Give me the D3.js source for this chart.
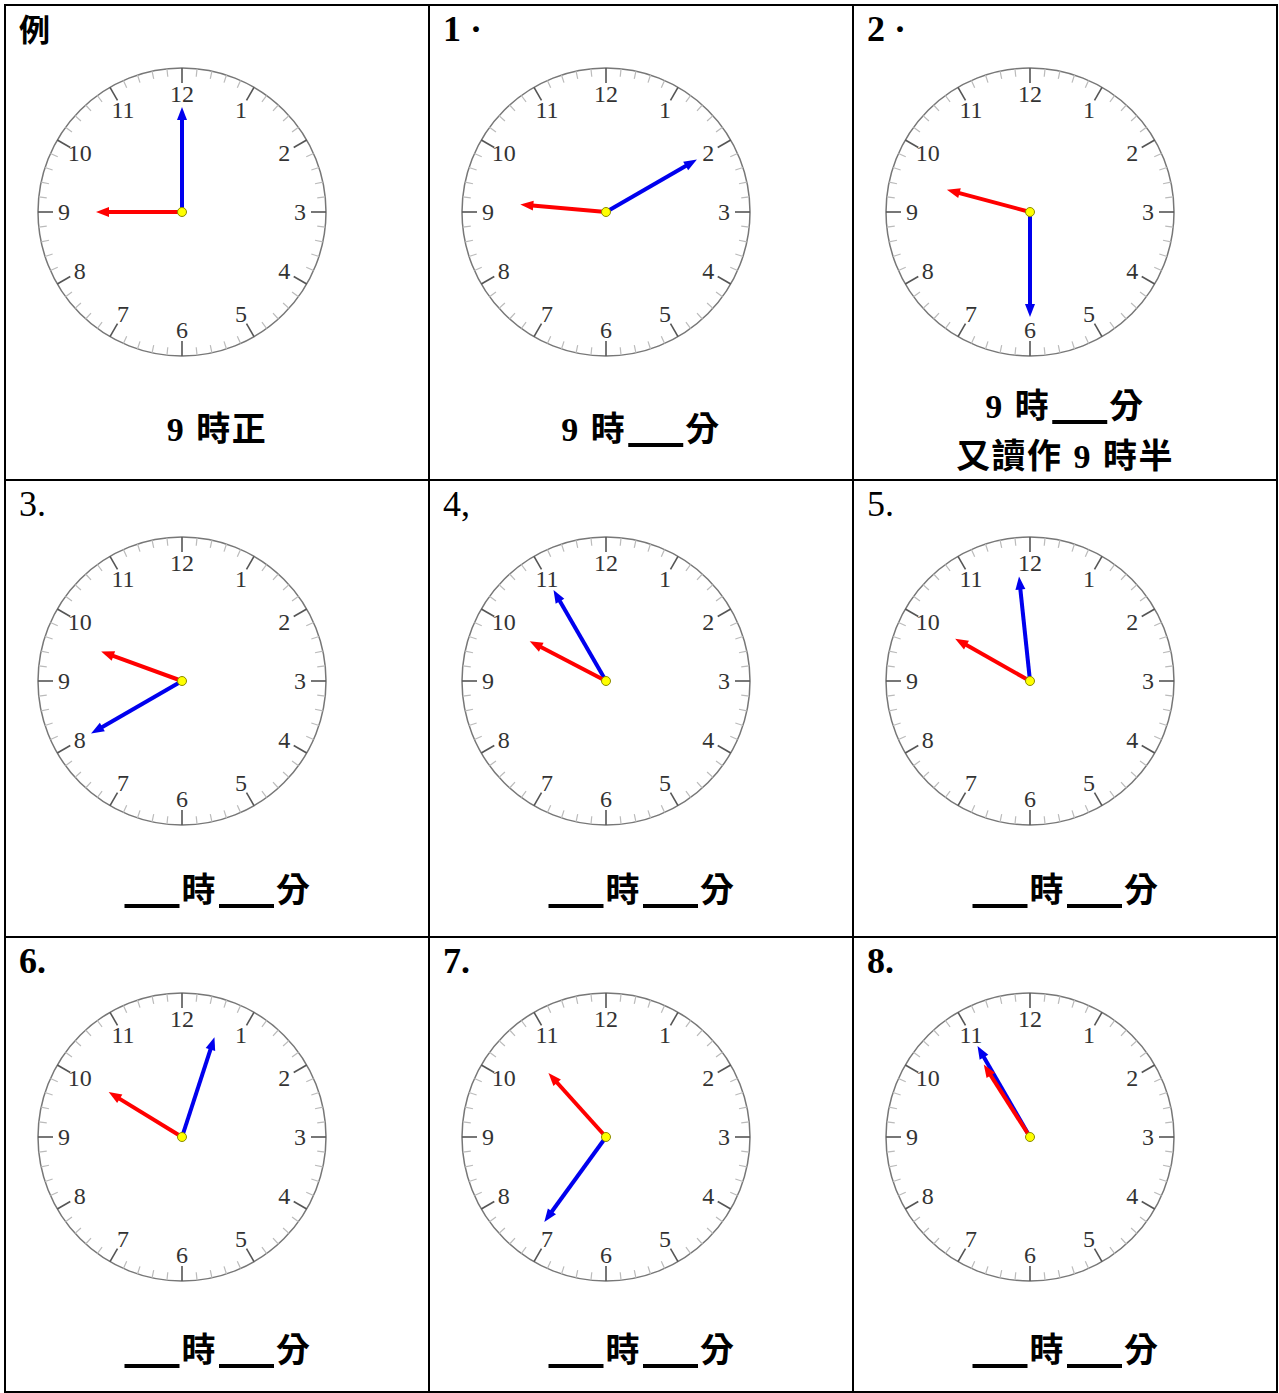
<!DOCTYPE html>
<html>
<head>
<meta charset="utf-8">
<script src="https://cdn.jsdelivr.net/npm/d3@7.9.0/dist/d3.min.js"></script>
<style>
  body { margin: 0; background: #fff; }
  svg { display: block; }
</style>
</head>
<body>
<svg id="sheet" width="1279" height="1393"></svg>
<script>
// question labels, clock readings, captions
const labels = ["例", "1 ·", "2 ·", "3.", "4,", "5.", "6.", "7.", "8."];
const labelBold = [true, true, true, false, false, false, true, true, true];
const hours = [9, 9, 9, 9, 9, 9, 10, 10, 10];
const minutes = [0, 10, 30, 40, 55, 59, 3, 36, 55];
// "_" = blank to fill in
const captions = [
  [["9 時正"]],
  [["9 時", "_", "分"]],
  [["9 時", "_", "分"], ["又讀作 9 時半"]],
  [["_", "時", "_", "分"]], [["_", "時", "_", "分"]], [["_", "時", "_", "分"]],
  [["_", "時", "_", "分"]], [["_", "時", "_", "分"]], [["_", "時", "_", "分"]]
];
const dialNumbers = [12, 1, 2, 3, 4, 5, 6, 7, 8, 9, 10, 11];

const colEdges = [5, 429, 853, 1277];
const rowEdges = [5, 480, 937, 1392];
const clockDy = [207, 201, 200];
const captionBase = [[441], [441], [418, 468], [902], [902], [902], [1362], [1362], [1362]];

const svg = d3.select("#sheet");
const font = "'Liberation Serif', 'Noto Sans CJK TC', serif";

const R = 144;
const minuteAngle = d3.scaleLinear().domain([0, 60]).range([0, 2 * Math.PI]);
const hourAngle = d3.scaleLinear().domain([0, 12]).range([0, 2 * Math.PI]);
const pt = (a, r) => [r * Math.sin(a), -r * Math.cos(a)];

function hand(g, angle, len, color) {
  const head = 13, half = 5;
  const [x1, y1] = pt(angle, len - head + 1);
  g.append("line").attr("x1", 0).attr("y1", 0).attr("x2", x1).attr("y2", y1)
    .attr("stroke", color).attr("stroke-width", 4);
  const tip = pt(angle, len), base = pt(angle, len - head);
  const nx = Math.cos(angle) * half, ny = Math.sin(angle) * half;
  const p = d3.path();
  p.moveTo(tip[0], tip[1]);
  p.lineTo(base[0] + nx, base[1] + ny);
  p.lineTo(base[0] - nx, base[1] - ny);
  p.closePath();
  g.append("path").attr("d", p.toString()).attr("fill", color);
}

labels.forEach((lab, i) => {
  const col = i % 3, row = Math.floor(i / 3);
  const left = colEdges[col], top = rowEdges[row];
  const cx = left + 177, cy = top + clockDy[row];

  // label
  svg.append("text").attr("x", left + 14).attr("y", top + 36)
    .attr("font-family", font).attr("font-size", lab === "例" ? 31 : 36)
    .attr("font-weight", labelBold[i] ? "bold" : "normal")
    .attr("fill", "#000").text(lab);

  // clock face
  const g = svg.append("g").attr("transform", `translate(${cx},${cy})`);
  g.append("circle").attr("r", R).attr("fill", "#fff")
    .attr("stroke", "#777").attr("stroke-width", 1.5);
  g.selectAll("line.tick").data(d3.range(60)).join("line").attr("class", "tick")
    .each(function (m) {
      const a = minuteAngle(m);
      const inner = m % 5 === 0 ? R - 15 : R - 8;
      const [xa, ya] = pt(a, R), [xb, yb] = pt(a, inner);
      d3.select(this).attr("x1", xa).attr("y1", ya).attr("x2", xb).attr("y2", yb)
        .attr("stroke", m % 5 === 0 ? "#555" : "#bbb")
        .attr("stroke-width", m % 5 === 0 ? 1.6 : 1.2);
    });
  g.selectAll("text.num").data(dialNumbers).join("text").attr("class", "num")
    .attr("x", d => pt(hourAngle(d), 118)[0])
    .attr("y", d => pt(hourAngle(d), 118)[1])
    .attr("text-anchor", "middle").attr("dominant-baseline", "central")
    .attr("font-family", "'Liberation Serif', serif").attr("font-size", 24)
    .attr("fill", "#333").text(d => d);

  hand(g, minuteAngle(minutes[i]), 105, "#0000ee");
  hand(g, hourAngle(hours[i] + minutes[i] / 60), 86, "#ff0000");
  g.append("circle").attr("r", 4.5).attr("fill", "#ffff00")
    .attr("stroke", "#8a8a00").attr("stroke-width", 1);

  // captions
  const centerX = left + 212;
  captions[i].forEach((segs, li) => {
    const base = captionBase[i][li];
    const line = svg.append("g");
    let x = 0;
    segs.forEach(s => {
      if (s === "_") {
        line.append("rect").attr("x", x + 2).attr("y", base + 2)
          .attr("width", 55).attr("height", 4).attr("fill", "#000");
        x += 59;
      } else {
        const t = line.append("text").attr("x", x).attr("y", base)
          .attr("font-family", font).attr("font-size", 34)
          .attr("letter-spacing", 1.5).attr("word-spacing", 1)
          .attr("font-weight", "bold").attr("fill", "#000").text(s);
        x += t.node().getComputedTextLength();
      }
    });
    line.attr("transform", `translate(${centerX - x / 2},0)`);
  });
});

// table rules
colEdges.forEach(x => svg.append("line").attr("x1", x).attr("x2", x)
  .attr("y1", rowEdges[0] - 1).attr("y2", rowEdges[3] + 1)
  .attr("stroke", "#000").attr("stroke-width", 2));
rowEdges.forEach(y => svg.append("line").attr("y1", y).attr("y2", y)
  .attr("x1", colEdges[0] - 1).attr("x2", colEdges[3] + 1)
  .attr("stroke", "#000").attr("stroke-width", 2));
</script>
</body>
</html>
